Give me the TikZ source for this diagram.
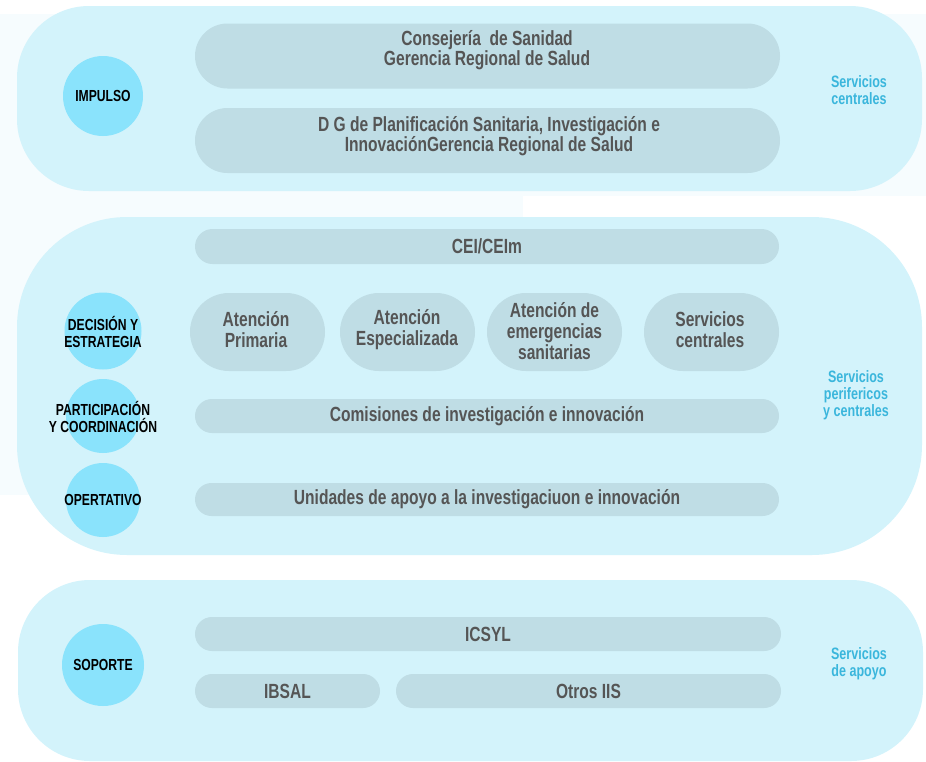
\documentclass[tikz,border=0pt]{standalone}
\usepackage{fontspec}
\setmainfont[FakeStretch=0.76]{Liberation Sans}
\definecolor{contfill}{HTML}{D3F3FB}
\definecolor{pillfill}{HTML}{BFDDE5}
\definecolor{circfill}{HTML}{8AE3FC}
\definecolor{pilltext}{HTML}{555555}
\definecolor{sidetext}{HTML}{3AB6DC}
\definecolor{palebg}{HTML}{F6FCFE}
\tikzset{
  container/.style={fill=contfill, draw=none, inner sep=0pt},
  pill/.style={fill=pillfill, draw=none, inner sep=0pt},
  pilltxt/.style={align=center, text=pilltext, inner sep=0pt,
    font=\bfseries\fontsize{20.5}{20}\selectfont},
  bigtxt/.style={pilltxt, font=\bfseries\fontsize{20.5}{21}\selectfont},
  circ/.style={circle, fill=circfill, draw=none, inner sep=0pt},
  circtext/.style={align=center, text=black, inner sep=0pt, font=\bfseries\fontsize{16}{16.5}\selectfont},
  sidelabel/.style={align=center, text=sidetext, inner sep=0pt, font=\bfseries\fontsize{16.5}{17}\selectfont}
}
\begin{document}
\begin{tikzpicture}[x=1pt, y=-1pt]
\useasboundingbox (0,0) rectangle (926,761);
% pale background
\fill[palebg] (0,14) rectangle (926,196);
\fill[palebg] (0,196) rectangle (523,495);
% containers
\node[container, minimum width=905pt, minimum height=185pt, rounded corners=72pt] (topbox) at (469.5,98.5) {};
\node[container, minimum width=905pt, minimum height=338pt, rounded corners=110pt] (midbox) at (469.5,386) {};
\node[container, minimum width=905pt, minimum height=181pt, rounded corners=72pt] (botbox) at (470.5,670.5) {};
% top pills
\node[pill, minimum width=585pt, minimum height=65pt, rounded corners=32.5pt] (consejeria) at (487.5,56) {};
\node[pill, minimum width=585pt, minimum height=65pt, rounded corners=32.5pt] (dg) at (487.5,140.5) {};
\node[pilltxt] (consejeriat) at (487,50) {Consejería~ de Sanidad\\Gerencia Regional de Salud};
\node[pilltxt] (dgt) at (489,136) {D G de Planificación Sanitaria, Investigación e\\InnovaciónGerencia Regional de Salud};
% middle pills
\node[pill, minimum width=584pt, minimum height=35pt, rounded corners=17.5pt] (cei) at (487,246.5) {};
\node[pilltxt] (ceit) at (cei) {CEI/CEIm};
\node[pill, minimum width=135pt, minimum height=78pt, rounded corners=39pt] (primaria) at (257.5,332) {};
\node[pill, minimum width=135pt, minimum height=78pt, rounded corners=39pt] (especializada) at (407.5,332) {};
\node[pill, minimum width=135pt, minimum height=78pt, rounded corners=39pt] (emergencias) at (554.5,332) {};
\node[pill, minimum width=135pt, minimum height=78pt, rounded corners=39pt] (centrales) at (711.5,332) {};
\node[bigtxt] (primariat) at (256,330) {Atención\\Primaria};
\node[bigtxt] (especializadat) at (407,330) {Atención\\Especializada};
\node[bigtxt] (emergenciast) at (554.5,331) {Atención de\\emergencias\\sanitarias};
\node[bigtxt] (centralest) at (710,330) {Servicios\\centrales};
\node[pill, minimum width=584pt, minimum height=34pt, rounded corners=17pt] (comisiones) at (487,416) {};
\node[pilltxt] (comisionest) at (comisiones) {Comisiones de investigación e innovación};
\node[pill, minimum width=584pt, minimum height=33pt, rounded corners=16.5pt] (unidades) at (487,499.5) {};
\node[pilltxt] (unidadest) at (unidades) {Unidades de apoyo a la investigaciuon e innovación};
% bottom pills
\node[pill, minimum width=586pt, minimum height=34pt, rounded corners=17pt] (icsyl) at (488,634) {};
\node[pilltxt] (icsylt) at (icsyl) {ICSYL};
\node[pill, minimum width=185pt, minimum height=34pt, rounded corners=17pt] (ibsal) at (287.5,691) {};
\node[pilltxt] (ibsalt) at (ibsal) {IBSAL};
\node[pill, minimum width=385pt, minimum height=34pt, rounded corners=17pt] (otros) at (588.5,691) {};
\node[pilltxt] (otrost) at (otros) {Otros IIS};
% circles
\node[circ, minimum size=80pt] (impulso) at (103,96) {};
\node[circ, minimum size=77pt] (decision) at (103,331) {};
\node[circ, minimum size=74pt] (participacion) at (103,416) {};
\node[circ, minimum size=74pt] (operativo) at (103,500) {};
\node[circ, minimum size=82pt] (soporte) at (103,665) {};
\node[circtext] (impulsot) at (impulso) {IMPULSO};
\node[circtext] (decisiont) at (103,332) {DECISIÓN Y\\ESTRATEGIA};
\node[circtext] (participaciont) at (103,417) {PARTICIPACIÓN\\Y COORDINACIÓN};
\node[circtext] (operativot) at (operativo) {OPERTATIVO};
\node[circtext] (soportet) at (soporte) {SOPORTE};
% side labels
\node[sidelabel] (side1) at (859,90) {Servicios\\centrales};
\node[sidelabel] (side2) at (856,395) {Servicios\\perifericos\\y centrales};
\node[sidelabel] (side3) at (859,664) {Servicios\\de apoyo};
\end{tikzpicture}
\end{document}
